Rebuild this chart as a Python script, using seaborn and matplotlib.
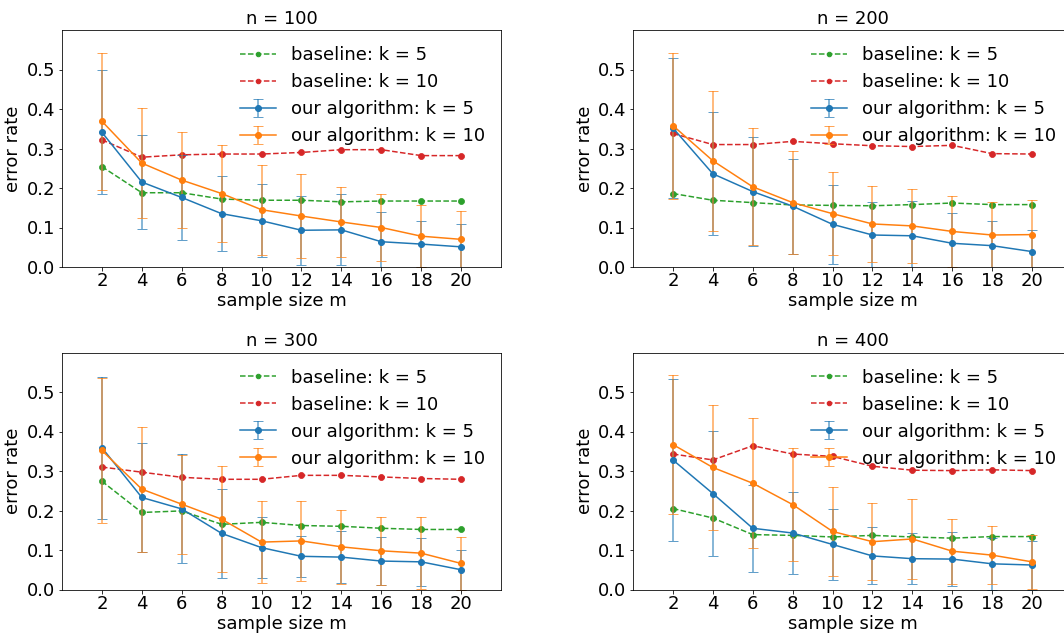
import numpy as np
import pandas as pd
import matplotlib
matplotlib.use("Agg")
import matplotlib.pyplot as plt
import seaborn as sns
from matplotlib.lines import Line2D

# ==========================================================
# DATA
# ==========================================================
m_values = [2, 4, 6, 8, 10, 12, 14, 16, 18, 20]
n_values = [100, 200, 300, 400]

# n = 100
base5_100 = [0.254, 0.188, 0.188, 0.172, 0.169, 0.169, 0.165, 0.167, 0.167, 0.167]
base10_100 = [0.322, 0.278, 0.284, 0.286, 0.286, 0.290, 0.297, 0.297, 0.282, 0.282]
alg5_100 = [0.341, 0.215, 0.176, 0.135, 0.117, 0.093, 0.094, 0.064, 0.058, 0.051]
alg5_err_100 = [0.157, 0.119, 0.108, 0.095, 0.092, 0.087, 0.090, 0.074, 0.059, 0.059]
alg10_100 = [0.369, 0.263, 0.220, 0.186, 0.145, 0.129, 0.114, 0.100, 0.078, 0.070]
alg10_err_100 = [0.173, 0.139, 0.122, 0.123, 0.114, 0.107, 0.088, 0.086, 0.078, 0.072]

# n = 200
base5_200 = [0.186, 0.169, 0.163, 0.157, 0.156, 0.155, 0.158, 0.162, 0.158, 0.158]
base10_200 = [0.338, 0.310, 0.310, 0.318, 0.312, 0.307, 0.305, 0.308, 0.287, 0.286]
alg5_200 = [0.352, 0.236, 0.191, 0.154, 0.108, 0.081, 0.079, 0.060, 0.054, 0.039]
alg5_err_200 = [0.178, 0.156, 0.139, 0.120, 0.100, 0.083, 0.089, 0.076, 0.062, 0.054]
alg10_200 = [0.358, 0.269, 0.203, 0.163, 0.135, 0.109, 0.104, 0.090, 0.081, 0.082]
alg10_err_200 = [0.185, 0.177, 0.148, 0.130, 0.105, 0.097, 0.093, 0.091, 0.084, 0.087]

# n = 300
base5_300 = [0.274, 0.195, 0.199, 0.165, 0.170, 0.162, 0.160, 0.155, 0.152, 0.152]
base10_300 = [0.310, 0.297, 0.284, 0.279, 0.279, 0.289, 0.289, 0.285, 0.281, 0.279]
alg5_300 = [0.359, 0.233, 0.204, 0.142, 0.106, 0.084, 0.082, 0.072, 0.070, 0.050]
alg5_err_300 = [0.180, 0.139, 0.138, 0.113, 0.078, 0.052, 0.065, 0.060, 0.061, 0.051]
alg10_300 = [0.352, 0.254, 0.216, 0.178, 0.120, 0.123, 0.108, 0.098, 0.092, 0.066]
alg10_err_300 = [0.183, 0.158, 0.125, 0.134, 0.104, 0.102, 0.094, 0.086, 0.091, 0.066]

# n = 400
base5_400 = [0.205, 0.181, 0.139, 0.137, 0.133, 0.137, 0.133, 0.130, 0.134, 0.134]
base10_400 = [0.343, 0.328, 0.364, 0.343, 0.337, 0.312, 0.302, 0.301, 0.303, 0.301]
alg5_400 = [0.328, 0.243, 0.155, 0.143, 0.114, 0.085, 0.078, 0.077, 0.065, 0.062]
alg5_err_400 = [0.205, 0.158, 0.110, 0.105, 0.090, 0.072, 0.065, 0.068, 0.066, 0.062]
alg10_400 = [0.367, 0.309, 0.269, 0.215, 0.147, 0.121, 0.128, 0.097, 0.087, 0.070]
alg10_err_400 = [0.175, 0.159, 0.164, 0.143, 0.113, 0.098, 0.102, 0.082, 0.074, 0.068]

panels = {
    100: (base5_100, base10_100, alg5_100, alg5_err_100, alg10_100, alg10_err_100),
    200: (base5_200, base10_200, alg5_200, alg5_err_200, alg10_200, alg10_err_200),
    300: (base5_300, base10_300, alg5_300, alg5_err_300, alg10_300, alg10_err_300),
    400: (base5_400, base10_400, alg5_400, alg5_err_400, alg10_400, alg10_err_400),
}

labels = ["baseline: k = 5", "baseline: k = 10",
          "our algorithm: k = 5", "our algorithm: k = 10"]

# ==========================================================
# STYLE
# ==========================================================
pal = sns.color_palette("tab10")
c_blue, c_orange, c_green, c_red = pal[0], pal[1], pal[2], pal[3]
plt.rcParams["font.size"] = 18
plt.rcParams["axes.titlesize"] = 18
plt.rcParams["font.family"] = ["DejaVu Sans"]

DPI = 72
fig = plt.figure(figsize=(1064 / DPI, 633 / DPI), dpi=DPI)

# axes placed in pixels; the right column runs past the canvas edge like the original
W, H = 1064.0, 633.0
boxes = [
    (62, 267, 439, 237),
    (633, 267, 439, 237),
    (62, 589.5, 439, 237),
    (633, 589.5, 439, 237),
]

for n, (x0, ybot, w, h) in zip(n_values, boxes):
    ax = fig.add_axes([x0 / W, (H - ybot) / H, w / W, h / H])
    b5, b10, a5, e5, a10, e10 = panels[n]

    df_b = pd.DataFrame({"m": m_values, "b5": b5, "b10": b10})
    sns.lineplot(data=df_b, x="m", y="b5", ax=ax, color=c_green, linestyle="--",
                 marker="o", markersize=6, markeredgecolor=c_green,
                 linewidth=1.5, legend=False)
    sns.lineplot(data=df_b, x="m", y="b10", ax=ax, color=c_red, linestyle="--",
                 marker="o", markersize=6, markeredgecolor=c_red,
                 linewidth=1.5, legend=False)

    eb5 = ax.errorbar(m_values, a5, yerr=e5, color=c_blue, marker="o",
                      markersize=6, capsize=5, linewidth=1.5)
    eb10 = ax.errorbar(m_values, a10, yerr=e10, color=c_orange, marker="o",
                       markersize=6, capsize=5, linewidth=1.5)
    for eb in (eb5, eb10):
        for cap in eb[1]:
            cap.set_alpha(0.7)
        for col in eb[2]:
            col.set_alpha(0.7)

    ax.set_xlim(0, 22)
    ax.set_ylim(0, 0.6)
    ax.set_xticks(m_values)
    ax.set_yticks([0.0, 0.1, 0.2, 0.3, 0.4, 0.5])
    ax.tick_params(axis="x", pad=2)
    ax.set_xlabel("sample size m", labelpad=2)
    ax.set_ylabel("error rate")
    ax.set_title(f"n = {n}")

    h_b5 = Line2D([], [], color=c_green, linestyle="--", marker="o", markersize=4.5)
    h_b10 = Line2D([], [], color=c_red, linestyle="--", marker="o", markersize=4.5)
    ax.legend([h_b5, h_b10, eb5, eb10], labels, loc="upper right", frameon=False)

fig.savefig("out.png", dpi=DPI)
